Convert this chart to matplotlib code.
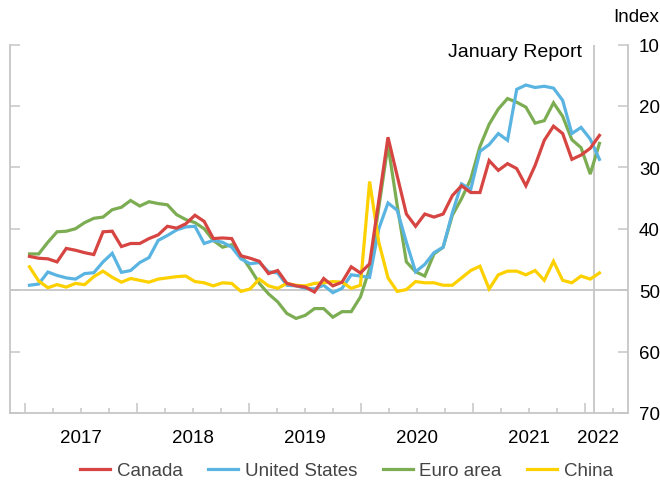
import numpy as np
import matplotlib
matplotlib.use("Agg")
import matplotlib.pyplot as plt
from matplotlib.lines import Line2D

plt.rcParams['font.family'] = ['Liberation Sans', 'DejaVu Sans']

# monthly readings, Jan 2017 onwards (x in months after Jan 2017)
n_points = 63
x_first, x_step = 0.48, 0.985
months = x_first + x_step * np.arange(n_points)

canada = [44.5, 44.8, 44.9, 45.4, 43.2, 43.5, 43.9, 44.2, 40.5, 40.4,
          42.9, 42.4, 42.4, 41.6, 41.0, 39.6, 39.9, 39.2, 37.8, 38.8,
          41.6, 41.5, 41.6, 44.4, 44.8, 45.3, 47.3, 46.8, 48.9, 49.3,
          49.5, 50.3, 48.1, 49.3, 48.7, 46.2, 47.2, 45.7, 35.4, 25.1,
          31.4, 37.6, 39.6, 37.6, 38.1, 37.6, 34.6, 33.0, 34.1, 34.1,
          28.9, 30.5, 29.4, 30.2, 33.0, 29.7, 25.6, 23.3, 24.5, 28.7,
          28.0, 26.9, 24.8]
united_states = [49.2, 49.0, 47.05, 47.6, 48.0, 48.2, 47.3, 47.15, 45.4, 44.0,
                 47.1, 46.8, 45.5, 44.7, 41.9, 41.1, 40.2, 39.7, 39.6, 42.4,
                 41.9, 42.2, 43.0, 44.9, 45.7, 45.5, 47.0, 47.2, 49.2, 49.3,
                 49.7, 49.8, 49.2, 50.4, 49.7, 47.5, 47.7, 47.9, 40.0, 35.8,
                 37.0, 42.2, 47.0, 45.8, 43.9, 43.0, 37.4, 32.7, 33.6, 27.4,
                 26.3, 24.5, 25.6, 17.3, 16.6, 17.0, 16.8, 17.1, 19.1, 24.5,
                 23.5, 25.4, 28.7]
euro_area = [44.1, 44.1, 42.2, 40.5, 40.4, 40.0, 39.0, 38.3, 38.1, 36.9,
             36.5, 35.4, 36.3, 35.6, 35.9, 36.1, 37.7, 38.5, 39.0, 40.0,
             41.9, 43.0, 42.6, 44.3, 46.5, 48.9, 50.6, 51.9, 53.8, 54.6,
             54.1, 53.0, 53.0, 54.4, 53.5, 53.5, 51.1, 46.5, 36.5, 26.4,
             36.2, 45.4, 47.0, 47.7, 44.1, 43.0, 37.8, 35.1, 31.9, 26.6,
             23.0, 20.5, 18.8, 19.4, 20.2, 22.8, 22.4, 19.5, 21.7, 25.5,
             26.8, 31.1, 26.1]
china = [46.2, 48.5, 49.6, 49.1, 49.5, 48.9, 49.1, 47.8, 46.9, 47.9,
         48.7, 48.1, 48.4, 48.7, 48.2, 48.0, 47.8, 47.7, 48.6, 48.8,
         49.3, 48.8, 48.9, 50.2, 49.8, 48.2, 49.3, 49.7, 48.9, 49.2,
         49.3, 48.9, 48.8, 48.6, 48.7, 49.7, 49.2, 32.3, 42.2, 48.0,
         50.2, 49.9, 48.6, 48.8, 48.8, 49.2, 49.2, 48.0, 46.8, 46.1,
         49.8, 47.5, 46.9, 46.9, 47.5, 46.8, 48.4, 45.3, 48.4, 48.8,
         47.7, 48.2, 47.2]

series_names = ["Canada", "United States", "Euro area", "China"]
series_colors = ["#d64541", "#5ab4e1", "#7cad52", "#fdd000"]

year_labels = ["2017", "2018", "2019", "2020", "2021", "2022"]
year_label_pos = [6, 18, 30, 42, 54, 61.4]
year_starts = [0, 12, 24, 36, 48, 60]
quarter_ticks = np.arange(0, 64, 3)
y_ticks = [10, 20, 30, 40, 50, 60, 70]
report_month = 61.0

grey = "#c6c6c6"

fig = plt.figure(figsize=(6.6, 4.85), dpi=100)
ax = fig.add_axes([10 / 660, 71 / 485, 618 / 660, 368.5 / 485])

ax.axhline(50, color=grey, lw=1.3, zorder=1)
ax.axvline(report_month, color=grey, lw=1.3, zorder=1)

plot_order = [2, 1, 3, 0]
all_series = [canada, united_states, euro_area, china]
for k in plot_order:
    ax.plot(months, all_series[k], color=series_colors[k], lw=2.3,
            solid_joinstyle="miter", zorder=3)

ax.set_xlim(-1.607, 64.61)
ax.set_ylim(70, 10)

for side in ["left", "right", "bottom"]:
    ax.spines[side].set_color(grey)
    ax.spines[side].set_linewidth(1.3)
ax.spines["top"].set_visible(False)

ax.set_yticks(y_ticks)
ax.tick_params(axis="y", which="both", left=True, right=True, labelleft=False,
               labelright=True, direction="in", length=7.5, width=1.1,
               color=grey, pad=8, labelsize=13.5)

ax.set_xticks(year_starts)
ax.set_xticks(quarter_ticks, minor=True)
ax.tick_params(axis="x", which="major", direction="in", length=7.5, width=1.1,
               color=grey, labelbottom=False)
ax.tick_params(axis="x", which="minor", direction="in", length=3.8, width=1.1,
               color=grey)

for lab, pos in zip(year_labels, year_label_pos):
    ax.text(pos, -0.066, lab, transform=ax.get_xaxis_transform(),
            ha="center", va="center", fontsize=13.5)

ax.text(59.7, 11.2, "January Report", ha="right", va="center", fontsize=14)
fig.text(659 / 660, 1 - 18 / 485, "Index", ha="right", va="center", fontsize=13.5)

handles = [Line2D([0], [0], color=c, lw=2.3) for c in series_colors]
leg = fig.legend(handles, series_names, loc="center", bbox_to_anchor=(0.525, 0.027),
                 ncol=4, frameon=False, handlelength=1.6, handletextpad=0.35,
                 columnspacing=1.36, fontsize=13.5)
for t in leg.get_texts():
    t.set_color("#444444")

fig.savefig("out.png", dpi=100)
